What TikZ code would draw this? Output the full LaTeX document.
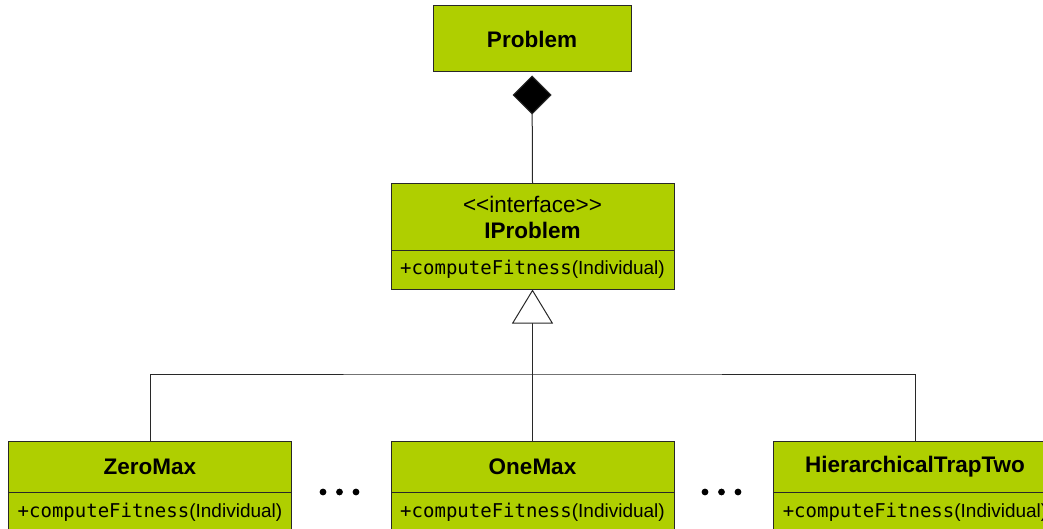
\documentclass[tikz,border=0pt]{standalone}
\usepackage{fontspec}
\setmainfont{Liberation Sans}
\newfontfamily\monof{DejaVu Sans Mono}
\usetikzlibrary{arrows.meta}
\definecolor{umlgreen}{RGB}{175,207,0}
\definecolor{umlline}{RGB}{40,40,40}
\tikzset{
  box/.style={draw=umlline, line width=1pt, fill=umlgreen, inner sep=0pt, minimum width=283pt, anchor=center},
  title/.style={font=\fontsize{22.5}{26}\selectfont\bfseries},
  stereo/.style={align=center, font=\fontsize{22.5}{26}\selectfont},
  meth/.style={font=\fontsize{19}{22}\selectfont},
  conn/.style={draw=umlline, line width=1pt},
}
\newcommand{\methtext}{{\monof +computeFitness}(Individual)}
\begin{document}
\begin{tikzpicture}[x=1pt,y=-1pt]
\useasboundingbox (0,0) rectangle (1043,529);
\begin{scope}
\clip (0,0) rectangle (1043,529);
% Problem
\node[box, title, minimum width=198pt, minimum height=66pt] (problem) at (532,39) {Problem};
% IProblem
\node[box, stereo, minimum height=66pt] (ip) at (532.5,217) {{<}{<}interface{>}{>}\\\textbf{IProblem}};
\node[box, meth, minimum height=39pt] (ipm) at (532.5,269.5) {\methtext};
% subclasses
\node[box, title, minimum height=51pt] (zm) at (150,466.5) {ZeroMax};
\node[box, meth, minimum height=40pt] (zmm) at (150,512) {\methtext};
\node[box, title, minimum height=51pt] (om) at (532.5,466.5) {OneMax};
\node[box, meth, minimum height=40pt] (omm) at (532.5,512) {\methtext};
\node[box, title, minimum height=51pt] (ht) at (915,466.5) {HierarchicalTrapTwo};
\node[box, meth, minimum height=40pt] (htm) at (915,512) {\methtext};
% composition
\draw[conn, -{Diamond[length=39pt,width=39pt,fill=black]}, shorten >=3pt] (ip.north) -- (problem.south);
% inheritance
\coordinate (bus) at (532.5,374);
\draw[conn, -{Triangle[open,length=34pt,width=41pt,fill=white]}] (om.north) -- (ipm.south);
\draw[conn] (zm.north) |- (bus) -| (ht.north);
% ellipses
\foreach \x in {323,339.5,356,705,721.5,738}{\fill (\x,492) circle (3.4pt);}
\end{scope}
\end{tikzpicture}
\end{document}
